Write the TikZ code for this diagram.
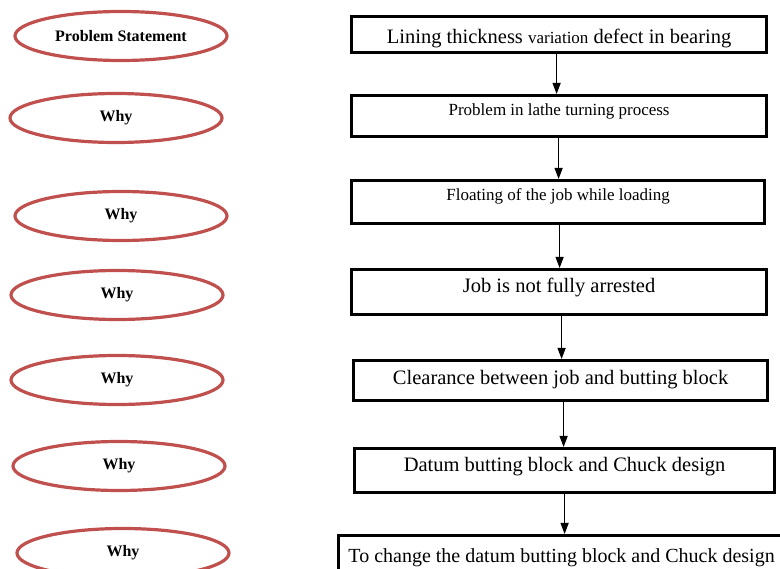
\documentclass[tikz,border=0pt]{standalone}
\usepackage{fontspec}
\setmainfont{Liberation Serif}
\usetikzlibrary{shapes.geometric,arrows.meta}
\definecolor{whyred}{RGB}{192,80,77}

\begin{document}
\begin{tikzpicture}[x=1pt,y=-1pt,
    why/.style={draw=whyred,line width=3.2pt,ellipse,minimum width=212pt,minimum height=49pt,inner sep=0pt,font=\fontsize{16}{18}\selectfont\bfseries},
    box/.style={draw,line width=3.2pt,rectangle,anchor=north west,inner xsep=0pt,inner ysep=0pt},
    big/.style={font=\fontsize{20.5}{24}\selectfont},
    small/.style={font=\fontsize{17}{20}\selectfont},
    arr/.style={-{Triangle[width=8pt,length=11pt]},line width=1.2pt}]
  \clip (0,0) rectangle (780,569);
  % left column
  \node[why,font=\fontsize{16}{18}\selectfont\bfseries] (ps) at (121,36) {Problem Statement};
  \foreach \n/\x/\y in {1/116/118,2/121/216,3/117/295,4/117/380,5/119/466,6/123/553}
    \node[why] (w\n) at (\x,\y) {Why};
  % right column
  \node[box,big,minimum width=415pt,text height=27pt,text depth=9pt] (b1) at (350,15)
    {Lining thickness {\fontsize{17}{20}\selectfont variation} defect in bearing};
  \node[box,small,minimum width=415pt,text height=20pt,text depth=21pt] (b2) at (350,94)
    {Problem in lathe turning process};
  \node[box,small,minimum width=413pt,text height=20pt,text depth=23pt] (b3) at (350,179)
    {Floating of the job while loading};
  \node[box,big,minimum width=415pt,text height=23pt,text depth=22pt] (b4) at (350,268)
    {Job is not fully arrested};
  \node[box,big,minimum width=414pt,text height=24pt,text depth=16pt] (b5) at (352,359)
    {Clearance between job and butting block};
  \node[box,big,minimum width=420pt,text height=23pt,text depth=21pt] (b6) at (353,447)
    {Datum butting block and Chuck design};
  \node[box,font=\fontsize{20}{24}\selectfont,minimum width=446pt,text height=27pt,text depth=29pt] (b7) at (337,534)
    {To change the datum butting block and Chuck design};
  \foreach \a/\b/\s in {b1/b2/-2.5,b2/b3/-0.5,b3/b4/1.5,b4/b5/2.5,b5/b6/3,b6/b7/0}
    \draw[arr] ([xshift=\s pt]\a.south) -- ([xshift=\s pt]\a.south |- \b.north);
\end{tikzpicture}
\end{document}
